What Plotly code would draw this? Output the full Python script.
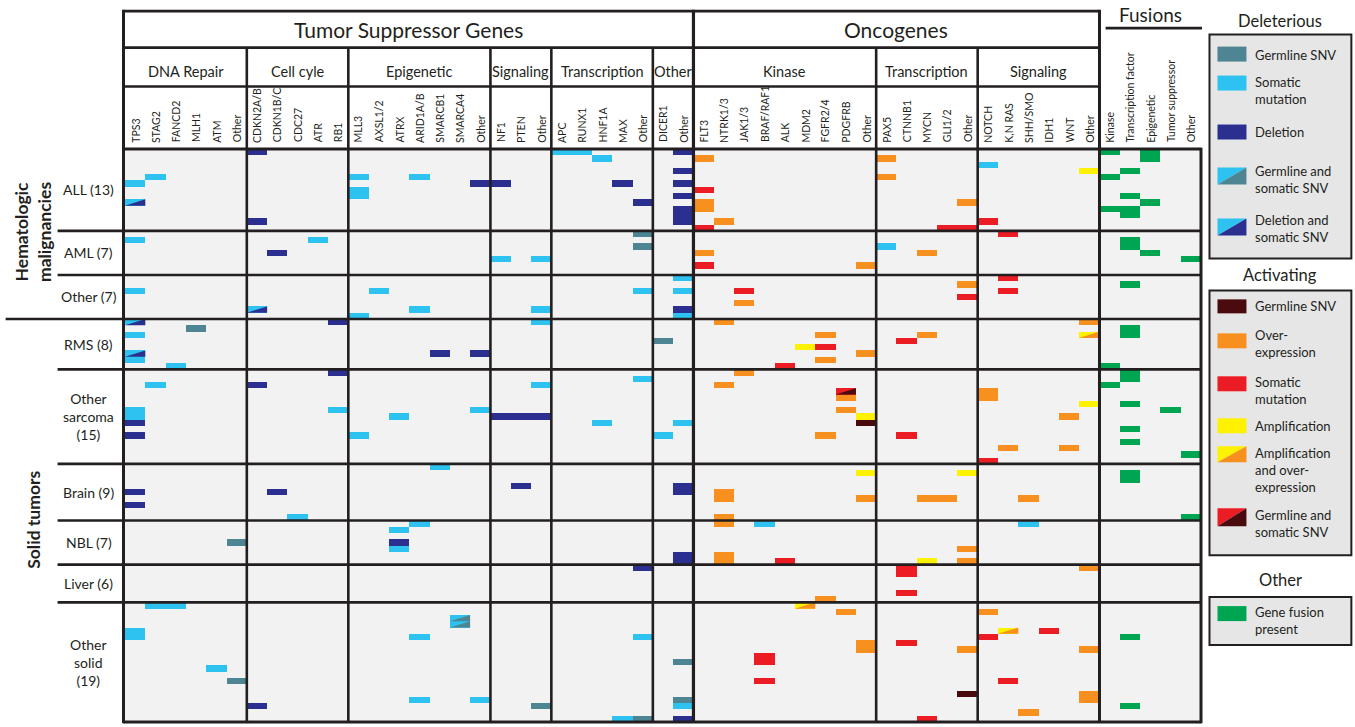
import plotly.graph_objects as go

# ---------------------------------------------------------------------------
# Cohort rows (patients are stacked group by group, top to bottom)
# ---------------------------------------------------------------------------
TUMOR_GROUPS = [
    ("ALL (13)", 13),
    ("AML (7)", 7),
    ("Other (7)", 7),
    ("RMS (8)", 8),
    ("Other<br>sarcoma<br>(15)", 15),
    ("Brain (9)", 9),
    ("NBL (7)", 7),
    ("Liver (6)", 6),
    ("Other<br>solid<br>(19)", 19),
]

# Gene columns; keys with a prefix are shown by the text after the colon
TSG_GROUPS = [
    ("DNA Repair", ["TPS3", "STAG2", "FANCD2", "MLH1", "ATM", "DNA:Other"]),
    ("Cell cyle", ["CDKN2A/B", "CDKN1B/C", "CDC27", "ATR", "RB1"]),
    ("Epigenetic", ["MLL3", "AXSL1/2", "ATRX", "ARID1A/B", "SMARCB1", "SMARCA4", "Epi:Other"]),
    ("Signaling", ["NF1", "PTEN", "TSig:Other"]),
    ("Transcription", ["APC", "RUNX1", "HNF1A", "MAX", "TTx:Other"]),
    ("Other", ["DICER1", "TOth:Other"]),
]
ONC_GROUPS = [
    ("Kinase", ["FLT3", "NTRK1/3", "JAK1/3", "BRAF/RAF1", "ALK", "MDM2", "FGFR2/4", "PDGFRB", "Kin:Other"]),
    ("Transcription", ["PAX5", "CTNNB1", "MYCN", "GLI1/2", "OTx:Other"]),
    ("Signaling", ["NOTCH", "K,N RAS", "SHH/SMO", "IDH1", "WNT", "OSig:Other"]),
]
FUSION_COLS = ["Fus:Kinase", "Fus:Transcription factor", "Fus:Epigenetic",
               "Fus:Tumor suppressor", "Fus:Other"]

# ---------------------------------------------------------------------------
# Alterations: gene column -> patient rows (0-based, across all groups)
# ---------------------------------------------------------------------------
GERMLINE_SNV_DEL = {"MLH1": [28], "TTx:Other": [13, 15, 90], "DICER1": [30],
                    "DNA:Other": [62, 84], "TOth:Other": [81, 87], "TSig:Other": [88]}

SOMATIC_DEL = {
    "TPS3": [5, 14, 22, 29, 33, 41, 42, 76, 77], "STAG2": [4, 37, 72], "FANCD2": [34, 72],
    "ATM": [82], "CDC27": [58], "ATR": [14], "RB1": [41],
    "MLL3": [4, 6, 7, 26, 45], "AXSL1/2": [22], "ATRX": [42, 60, 63],
    "ARID1A/B": [4, 25, 59, 77, 87], "SMARCB1": [50], "Epi:Other": [41, 87],
    "NF1": [17], "TSig:Other": [17, 25, 27, 37], "APC": [0], "RUNX1": [0],
    "HNF1A": [1, 43], "MAX": [90], "TTx:Other": [22, 36, 77], "DICER1": [45],
    "TOth:Other": [20, 22, 26, 43, 88], "PAX5": [15], "NOTCH": [2],
    "BRAF/RAF1": [59], "SHH/SMO": [59],
}

DELETION = {
    "TPS3": [43, 45, 54, 56], "CDKN2A/B": [0, 11, 37, 88], "CDKN1B/C": [16, 54],
    "RB1": [27, 35], "ATRX": [62], "SMARCB1": [32], "Epi:Other": [5, 32],
    "NF1": [5, 42], "PTEN": [42, 53], "TSig:Other": [42], "MAX": [5],
    "TTx:Other": [8, 66],
    "TOth:Other": [0, 3, 5, 7, 9, 10, 11, 25, 53, 54, 64, 65, 90],
}

GERMLINE_SNV_ACT = {"Kin:Other": [43], "OTx:Other": [86]}

OVEREXPRESSION = {
    "FLT3": [1, 8, 9, 16], "NTRK1/3": [11, 27, 37, 54, 55, 58, 59, 64, 65],
    "JAK1/3": [24, 35], "FGFR2/4": [29, 33, 45, 71], "PDGFRB": [39, 41, 73],
    "Kin:Other": [18, 32, 55, 78, 79], "PAX5": [1, 4], "MYCN": [16, 29, 55],
    "GLI1/2": [55], "OTx:Other": [8, 21, 63, 65, 79], "NOTCH": [38, 39, 73],
    "K,N RAS": [47], "SHH/SMO": [55, 89], "WNT": [42, 47],
    "OSig:Other": [27, 66, 79, 86, 87],
}

SOMATIC_ACT = {
    "FLT3": [6, 12, 18], "JAK1/3": [22], "BRAF/RAF1": [80, 81, 84], "ALK": [34, 65],
    "FGFR2/4": [31], "CTNNB1": [30, 45, 66, 67, 70, 78], "MYCN": [90],
    "GLI1/2": [12], "OTx:Other": [12, 23], "NOTCH": [11, 49, 77],
    "K,N RAS": [13, 20, 22, 84], "IDH1": [76],
}

AMPLIFICATION = {"MDM2": [31], "Kin:Other": [42, 51], "OTx:Other": [51],
                 "MYCN": [65], "OSig:Other": [3, 40]}

FUSION = {
    "Fus:Kinase": [0, 4, 9, 34, 37],
    "Fus:Transcription factor": [3, 7, 9, 10, 14, 15, 21, 28, 29, 35, 36, 40, 44,
                                 46, 51, 52, 77, 88],
    "Fus:Epigenetic": [0, 1, 8, 16],
    "Fus:Tumor suppressor": [41],
    "Fus:Other": [17, 48, 58],
}

# two-colour cells (upper-left half / lower-right half)
DELETION_AND_SOMATIC = {"TPS3": [8, 27, 32], "CDKN2A/B": [25]}
GERMLINE_AND_SOMATIC_DEL = {"SMARCA4": [74, 75]}
AMP_AND_OVEREXPRESSION = {"OSig:Other": [29], "MDM2": [72], "K,N RAS": [76]}
GERMLINE_AND_SOMATIC_ACT = {"PDGFRB": [38]}

# ---------------------------------------------------------------------------
# Colours
# ---------------------------------------------------------------------------
INK = "#231f20"
C_GERM_DEL = "#4e8593"
C_SOM_DEL = "#2ec2f0"
C_DEL = "#2b3090"
C_GERM_ACT = "#4a0b0e"
C_OVER = "#f7901e"
C_SOM_ACT = "#ec1c24"
C_AMP = "#fff200"
C_FUSION = "#00a551"
CELL_BG = "#f2f2f2"
BOX_BG = "#e6e6e6"

FONT = "Lato"

# ---------------------------------------------------------------------------
# Geometry helpers
# ---------------------------------------------------------------------------
FIG_W, FIG_H = 1355, 727
GX0, GX1 = 124.5, 1201.5
GY0, GY1 = 148.5, 722.0

COLUMNS = ([k for _, ks in TSG_GROUPS for k in ks]
           + [k for _, ks in ONC_GROUPS for k in ks] + FUSION_COLS)
NCOL = len(COLUMNS)
NROW = sum(n for _, n in TUMOR_GROUPS)
COL_INDEX = {k: i for i, k in enumerate(COLUMNS)}


def label_of(key):
    return key.split(":")[-1]


def px_x(px):
    return (px - GX0) / (GX1 - GX0)


def px_y(py):
    return (GY1 - py) / (GY1 - GY0)


def col_px(b):
    return GX0 + b * (GX1 - GX0) / NCOL


def row_px(r):
    return GY0 + r * (GY1 - GY0) / NROW


fig = go.Figure()
shapes = []
annotations = []


def add_cells(cells, color):
    z = [[None] * NCOL for _ in range(NROW)]
    for key, rows in cells.items():
        for r in rows:
            z[r][COL_INDEX[key]] = 1
    fig.add_trace(go.Heatmap(
        z=z, x=list(range(NCOL)), y=list(range(NROW)),
        colorscale=[[0, color], [1, color]], zmin=0, zmax=1,
        showscale=False, hoverinfo="skip"))


def add_split_cells(cells, upper_color, lower_color):
    add_cells(cells, upper_color)
    for key, rows in cells.items():
        c = COL_INDEX[key]
        for r in rows:
            shapes.append(dict(
                type="path", xref="x", yref="y", layer="above",
                path=f"M {c - 0.5},{r + 0.5} L {c + 0.5},{r + 0.5} L {c + 0.5},{r - 0.5} Z",
                fillcolor=lower_color, line=dict(width=0)))


for cells, color in [(GERMLINE_SNV_DEL, C_GERM_DEL), (SOMATIC_DEL, C_SOM_DEL),
                     (DELETION, C_DEL), (GERMLINE_SNV_ACT, C_GERM_ACT),
                     (OVEREXPRESSION, C_OVER), (SOMATIC_ACT, C_SOM_ACT),
                     (AMPLIFICATION, C_AMP), (FUSION, C_FUSION)]:
    add_cells(cells, color)

add_split_cells(DELETION_AND_SOMATIC, C_SOM_DEL, C_DEL)
add_split_cells(GERMLINE_AND_SOMATIC_DEL, C_SOM_DEL, C_GERM_DEL)
add_split_cells(AMP_AND_OVEREXPRESSION, C_AMP, C_OVER)
add_split_cells(GERMLINE_AND_SOMATIC_ACT, C_SOM_ACT, C_GERM_ACT)


# ---------------------------------------------------------------------------
# Frame lines
# ---------------------------------------------------------------------------
def hline(py, x0, x1, w=2.6):
    shapes.append(dict(type="line", xref="paper", yref="paper", layer="above",
                       x0=px_x(x0), x1=px_x(x1), y0=px_y(py), y1=px_y(py),
                       line=dict(color=INK, width=w)))


def vline(px, y0, y1, w=2.6):
    shapes.append(dict(type="line", xref="paper", yref="paper", layer="above",
                       x0=px_x(px), x1=px_x(px), y0=px_y(y0), y1=px_y(y1),
                       line=dict(color=INK, width=w)))


Y_TOP, Y_TITLE, Y_CAT = 10.5, 47.0, 86.0
n_tsg = sum(len(ks) for _, ks in TSG_GROUPS)
n_onc = sum(len(ks) for _, ks in ONC_GROUPS)
LEFT = col_px(0) - 1.5
MID = col_px(n_tsg)
RIGHT_ONC = col_px(n_tsg + n_onc)
RIGHT = col_px(NCOL)

vline(LEFT, Y_TOP - 1.3, GY1 + 1.3, 3)
vline(MID, Y_TOP - 1.3, GY1, 3.2)
vline(RIGHT_ONC, Y_TOP - 1.3, GY1, 3)
vline(RIGHT, GY0 - 1.3, GY1 + 1.3, 3)
hline(Y_TOP, LEFT, RIGHT_ONC, 2.6)
hline(Y_TITLE, LEFT, RIGHT_ONC, 2.6)
hline(Y_CAT, LEFT, RIGHT_ONC, 2.6)
hline(GY0, LEFT, RIGHT, 2.8)
hline(GY1, LEFT, RIGHT, 2.8)

# category boundaries
b = 0
for groups in (TSG_GROUPS, ONC_GROUPS):
    for i, (name, keys) in enumerate(groups):
        if i > 0:
            vline(col_px(b), Y_TITLE, GY1, 2.6)
        b += len(keys)
    b = n_tsg

# tumour group boundaries
r = 0
for i, (name, n) in enumerate(TUMOR_GROUPS[:-1]):
    r += n
    x_start = 5 if i == 2 else 57
    hline(row_px(r), x_start, RIGHT, 2.6)

# fusion title underline
hline(27.5, 1106, RIGHT + 1, 2.6)


# ---------------------------------------------------------------------------
# Header text
# ---------------------------------------------------------------------------
def text(px, py, s, size, angle=0, xanchor="center", yanchor="middle", bold=False,
         align="center"):
    annotations.append(dict(
        x=px_x(px), y=px_y(py), xref="paper", yref="paper", text=s, showarrow=False,
        textangle=angle, xanchor=xanchor, yanchor=yanchor, align=align,
        font=dict(family=FONT, size=size, color=INK,
                  weight="bold" if bold else "normal")))


text((LEFT + MID) / 2, 29, "Tumor Suppressor Genes", 21)
text((MID + RIGHT_ONC) / 2, 29, "Oncogenes", 21)
text((RIGHT_ONC + RIGHT) / 2, 14, "Fusions", 19)

b = 0
for groups in (TSG_GROUPS, ONC_GROUPS):
    for name, keys in groups:
        text((col_px(b) + col_px(b + len(keys))) / 2, 70.5, name, 14.5)
        b += len(keys)

for i, key in enumerate(COLUMNS):
    text((col_px(i) + col_px(i + 1)) / 2, 144, label_of(key), 10.5, angle=-90,
         yanchor="bottom")

r = 0
for name, n in TUMOR_GROUPS:
    text(88, (row_px(r) + row_px(r + n)) / 2, name, 14)
    r += n

text(33, 232, "Hematologic<br>malignancies", 17.5, angle=-90, bold=True)
text(33, 520, "Solid tumors", 17.5, angle=-90, bold=True)

# ---------------------------------------------------------------------------
# Legend panels
# ---------------------------------------------------------------------------
LX0, LX1 = 1210, 1352
SW0, SW1 = 1218, 1247


def box(y0, y1):
    shapes.append(dict(type="rect", xref="paper", yref="paper", layer="above",
                       x0=px_x(LX0), x1=px_x(LX1), y0=px_y(y0), y1=px_y(y1),
                       fillcolor=BOX_BG, line=dict(color=INK, width=2)))


def swatch(top, h, colors):
    x0, x1, y0, y1 = px_x(SW0), px_x(SW1), px_y(top), px_y(top + h)
    if isinstance(colors, str):
        shapes.append(dict(type="rect", xref="paper", yref="paper", layer="above",
                           x0=x0, x1=x1, y0=y0, y1=y1, fillcolor=colors,
                           line=dict(width=0)))
    else:
        upper, lower = colors
        shapes.append(dict(type="path", xref="paper", yref="paper", layer="above",
                           path=f"M {x0},{y1} L {x0},{y0} L {x1},{y0} Z",
                           fillcolor=upper, line=dict(width=0)))
        shapes.append(dict(type="path", xref="paper", yref="paper", layer="above",
                           path=f"M {x0},{y1} L {x1},{y1} L {x1},{y0} Z",
                           fillcolor=lower, line=dict(width=0)))


def item(top, h, colors, txt, ty):
    swatch(top, h, colors)
    text(1254, ty, txt, 13, xanchor="left", align="left")


text(1281, 20, "Deleterious", 16.5)
box(34, 258)
item(46, 15, C_GERM_DEL, "Germline SNV", 54)
item(75, 15, C_SOM_DEL, "Somatic<br>mutation", 90)
item(124, 15, C_DEL, "Deletion", 131)
item(167, 17, (C_SOM_DEL, C_GERM_DEL), "Germline and<br>somatic SNV", 179)
item(218, 17, (C_SOM_DEL, C_DEL), "Deletion and<br>somatic SNV", 228)

text(1281, 275, "Activating", 16.5)
box(290, 555)
item(299, 14, C_GERM_ACT, "Germline SNV", 306)
item(333, 15, C_OVER, "Over-<br>expression", 343)
item(376, 15, C_SOM_ACT, "Somatic<br>mutation", 390)
item(418, 15, C_AMP, "Amplification", 426)
item(446, 16, (C_AMP, C_OVER), "Amplification<br>and over-<br>expression", 470)
item(508, 18, (C_SOM_ACT, C_GERM_ACT), "Germline and<br>somatic SNV", 523)

text(1281, 580, "Other", 16.5)
box(597, 645)
item(606, 15, C_FUSION, "Gene fusion<br>present", 620)

# ---------------------------------------------------------------------------
fig.update_layout(
    width=FIG_W, height=FIG_H, autosize=False,
    margin=dict(l=GX0, r=FIG_W - GX1, t=GY0, b=FIG_H - GY1, pad=0),
    paper_bgcolor="white", plot_bgcolor=CELL_BG,
    xaxis=dict(range=[-0.5, NCOL - 0.5], visible=False, fixedrange=True),
    yaxis=dict(range=[NROW - 0.5, -0.5], visible=False, fixedrange=True),
    shapes=shapes, annotations=annotations, showlegend=False,
)

fig.write_html("out.html")
